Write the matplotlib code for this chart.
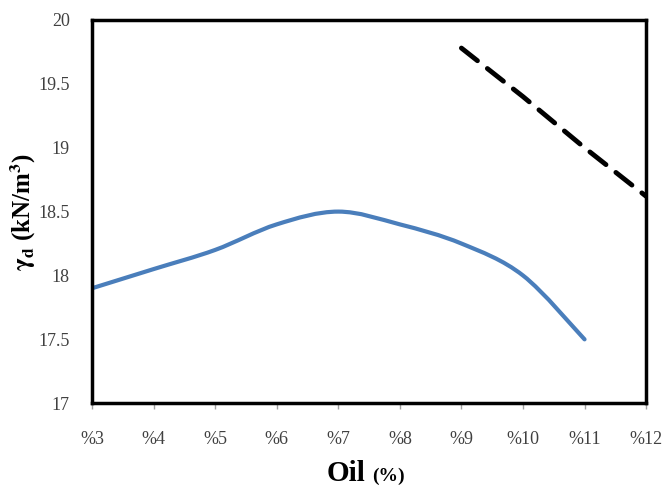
import matplotlib
matplotlib.use('Agg')
import matplotlib.pyplot as plt
import numpy as np
from matplotlib.path import Path
from matplotlib.patches import PathPatch

# data
oil = [3, 4, 5, 6, 7, 8, 9, 10, 11]
gamma_d = [17.9, 18.05, 18.2, 18.4, 18.5, 18.4, 18.25, 18.0, 17.5]
oil_dash = [9, 10, 11, 12]
gamma_dash = [19.78, 19.4, 19.0, 18.62]
xtick_vals = [3, 4, 5, 6, 7, 8, 9, 10, 11, 12]
xtick_labels = ['%3', '%4', '%5', '%6', '%7', '%8', '%9', '%10', '%11', '%12']
ytick_vals = [17, 17.5, 18, 18.5, 19, 19.5, 20]


def smooth_path(xs, ys, t=0.5):
    """Excel-style smoothed line as cubic bezier segments through the points"""
    pts = np.column_stack([xs, ys]).astype(float)
    n = len(pts)
    verts = [pts[0]]
    codes = [Path.MOVETO]
    for i in range(n - 1):
        p0 = pts[i - 1] if i > 0 else pts[i]
        p1 = pts[i]
        p2 = pts[i + 1]
        p3 = pts[i + 2] if i + 2 < n else pts[i + 1]
        c1 = p1 + (p2 - p0) * t / 3
        c2 = p2 - (p3 - p1) * t / 3
        verts += [c1, c2, p2]
        codes += [Path.CURVE4] * 3
    return Path(verts, codes)


plt.rcParams['font.family'] = ['Liberation Serif', 'DejaVu Serif']
plt.rcParams['mathtext.fontset'] = 'stix'

fig = plt.figure(figsize=(6.62, 4.87), dpi=100)
ax = fig.add_axes([0.139, 0.172, 0.837, 0.787])

patch = PathPatch(smooth_path(oil, gamma_d), facecolor='none',
                  edgecolor='#4a7ebb', lw=3, capstyle='round')
ax.add_patch(patch)
ax.plot(oil_dash, gamma_dash, color='black', lw=3.5,
        dashes=(4.2, 2.6), solid_capstyle='round', dash_capstyle='round',
        clip_on=True)

ax.set_xlim(3, 12)
ax.set_ylim(17, 20)
ax.set_xticks(xtick_vals)
ax.set_xticklabels(xtick_labels)
ax.set_yticks(ytick_vals)
ax.set_yticklabels(['17', '17.5', '18', '18.5', '19', '19.5', '20'])

for s in ax.spines.values():
    s.set_linewidth(2.5)
    s.set_color('black')

ax.tick_params(axis='x', direction='out', length=4, width=1, color='#a0a0a0',
               labelsize=13, labelcolor='#404040', pad=16)
ax.tick_params(axis='y', length=0, labelsize=13, labelcolor='#404040', pad=16)

ax.set_ylabel(r'$\mathbf{\gamma_d}$ (kN/m$^\mathbf{3}$)', fontsize=18,
              fontweight='bold', labelpad=0)
fig.text(0.552, 0.012, 'Oil', fontsize=21, fontweight='bold', ha='right', va='baseline')
fig.text(0.562, 0.012, '(%)', fontsize=14, fontweight='bold', ha='left', va='baseline')

fig.savefig('out.png', dpi=100)
